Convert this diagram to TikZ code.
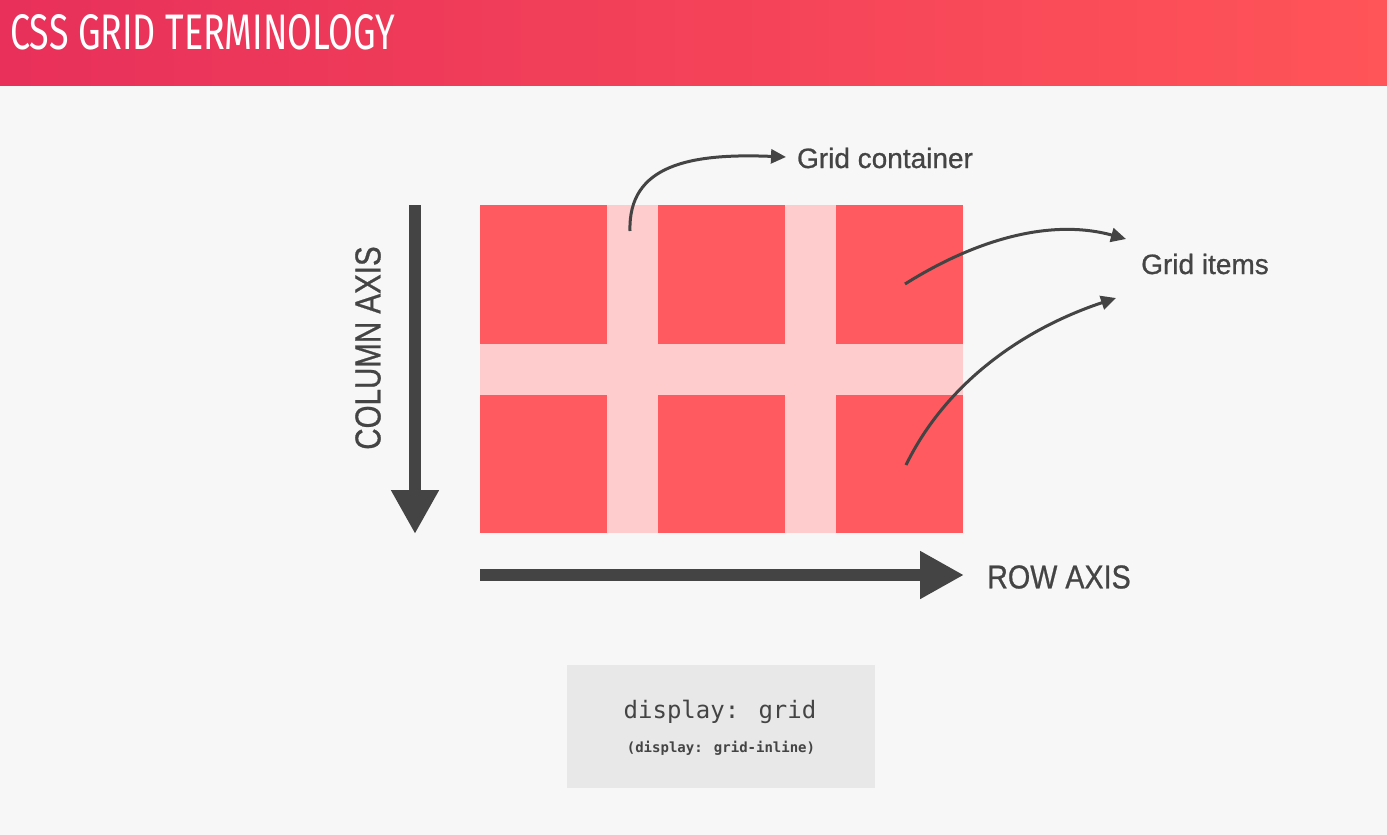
\documentclass[tikz,border=0pt]{standalone}
\usepackage{fontspec}
\setmainfont{Liberation Sans}
\newfontfamily\medfont[FakeBold=0.8]{Liberation Sans}
\newfontfamily\titlefont{Fira Sans}
\newfontfamily\codefont{DejaVu Sans Mono}
\usetikzlibrary{arrows.meta}
\definecolor{bg}{HTML}{F7F7F7}
\definecolor{hdrL}{HTML}{E8305A}
\definecolor{hdrR}{HTML}{FF5458}
\definecolor{cellred}{HTML}{FF5A5F}
\definecolor{gappink}{HTML}{FFCCCE}
\definecolor{ink}{HTML}{444444}
\definecolor{codebg}{HTML}{E8E8E8}
\tikzset{
  cell/.style={fill=cellred, draw=none},
  curvearrow/.style={draw=ink, line width=3pt, -{Triangle[length=15pt,width=14pt]}},
  axisarrow/.style={draw=ink, line width=12pt, -{Triangle[length=44pt,width=45pt]}},
  lbl/.style={text=ink, inner sep=0pt, font=\medfont\fontsize{28}{32}\selectfont},
  axislbl/.style={text=ink, inner sep=0pt, font=\medfont\fontsize{36}{40}\selectfont},
}
\begin{document}
\begin{tikzpicture}[x=1pt,y=-1pt]
\useasboundingbox (0,0) rectangle (1387,835);
\fill[bg] (0,0) rectangle (1387,835);
% header
\shade[left color=hdrL, right color=hdrR, draw=none] (0,0) rectangle (1387,85);
\node[anchor=west, inner sep=0pt, text=white] (title) at (10,32.5)
  {\resizebox{385pt}{35pt}{\titlefont\fontsize{50}{50}\selectfont CSS GRID TERMINOLOGY}};
% grid
\fill[gappink] (480,205) rectangle (963,533);
\fill[cell] (480,205) rectangle (607,344);
\fill[cell] (658,205) rectangle (785,344);
\fill[cell] (836,205) rectangle (963,344);
\fill[cell] (480,395) rectangle (607,533);
\fill[cell] (658,395) rectangle (785,533);
\fill[cell] (836,395) rectangle (963,533);
% column axis
\coordinate (colstart) at (415,205);
\coordinate (colend) at (415,534);
\draw[axisarrow] (colstart) -- (colend);
\node[axislbl, rotate=90] (collbl) at (368,348) {\scalebox{0.82}[1]{COLUMN AXIS}};
% row axis
\coordinate (rowstart) at (480,575);
\coordinate (rowend) at (964,575);
\draw[axisarrow] (rowstart) -- (rowend);
\node[axislbl, anchor=west, font=\medfont\fontsize{33}{36}\selectfont] (rowlbl) at (987,577) {\scalebox{0.87}[1]{ROW AXIS}};
% labels
\node[lbl] (container) at (885,158) {Grid container};
\node[lbl] (items) at (1205,264) {Grid items};
% curved arrows
\coordinate (gapstart) at (630,231);
\coordinate (contend) at (786,157);
\draw[curvearrow] (gapstart) .. controls (628,165) and (690,153) .. (contend);
\coordinate (item1) at (905,284);
\coordinate (item1end) at (1126,239);
\draw[curvearrow] (item1) .. controls (975,240) and (1050,218) .. (item1end);
\coordinate (item2) at (906,465);
\coordinate (item2end) at (1116,298);
\draw[curvearrow] (item2) .. controls (945,385) and (1020,330) .. (item2end);
% code box
\node[fill=codebg, minimum width=308pt, minimum height=123pt, inner sep=0pt] (codebox) at (721,726.5) {};
\node[text=ink, inner sep=0pt, font=\codefont\fontsize{24}{26}\selectfont] (code1) at (720,712) {display: grid};
\node[text=ink, inner sep=0pt, font=\codefont\bfseries\fontsize{14}{16}\selectfont] (code2) at (721,748) {(display: grid-inline)};
\end{tikzpicture}
\end{document}
